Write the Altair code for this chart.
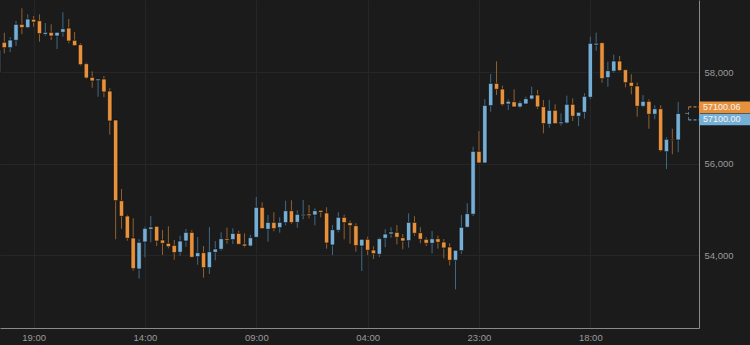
import altair as alt
import pandas as pd

# Hourly candles, first one at 2021-04-10 13:00 (partly hidden at the left edge)
start_time = "2021-04-10 13:00"
opens = [58004, 58652, 58534, 58696, 59045, 58971, 59154, 59123, 58827, 58870,
         58789, 58870, 58964, 58696, 58600, 58185, 57888, 57814, 57851, 57589,
         56957, 55196, 54862, 54382, 53705, 54295, 54572, 54637, 54338, 54266,
         54222, 54070, 54316, 54506, 53974, 54061, 53734, 54070, 54135, 54367,
         54345, 54484, 54251, 54207, 54397, 55052, 54572, 54724, 54607, 54716,
         54978, 54724, 54868, 54906, 54884, 54986, 54928, 54229, 54550, 54834,
         54716, 54650, 54207, 54354, 54120, 54027, 54375, 54469, 54506, 54388,
         54323, 54724, 54497, 54354, 54266, 54367, 54295, 54186, 53895, 54105,
         54616, 54899, 56274, 56018, 57269, 57757, 57633, 57306, 57356, 57241,
         57306, 57415, 57502, 57247, 56863, 57169, 56876, 56891, 57300, 57038,
         57125, 57452, 58593, 58644, 57880, 58020, 58244, 58055, 57780, 57699,
         57256, 57365, 57081, 57203, 56265, 56536, 56521]
highs = [58528, 58861, 58761, 59117, 59394, 59263, 59226, 59263, 59073, 59045,
         58870, 59307, 59160, 58877, 58630, 58207, 58019, 57851, 57917, 57648,
         56957, 55451, 54890, 54812, 54360, 54628, 54862, 54637, 54556, 54637,
         54338, 54432, 54578, 54556, 54404, 54207, 54622, 54316, 54506, 54607,
         54593, 54541, 54484, 54447, 55276, 55161, 54884, 54943, 54834, 55196,
         55205, 54986, 55211, 55102, 55030, 54986, 55052, 54666, 54943, 54890,
         54760, 54703, 54354, 54411, 54201, 54389, 54572, 54616, 54666, 54469,
         54921, 54856, 54616, 54397, 54535, 54432, 54360, 54266, 54114, 54884,
         55139, 56374, 56717, 57408, 57960, 58237, 57705, 57408, 57626, 57372,
         57465, 57684, 57612, 57393, 57393, 57300, 57103, 57487, 57430, 57125,
         57540, 58775, 58862, 58644, 58229, 58382, 58353, 58055, 57954, 57771,
         57502, 57409, 57278, 57278, 56579, 56767, 57350]
lows = [57961, 58412, 58440, 58571, 58827, 58957, 58992, 58665, 58796, 58702,
        58506, 58774, 58630, 58578, 58141, 57851, 57661, 57465, 57452, 56636,
        54353, 54585, 54323, 53668, 53494, 53961, 54288, 54207, 54011, 54157,
        53908, 53996, 54192, 53961, 53799, 53516, 53596, 53895, 54105, 54258,
        54251, 54244, 54179, 54192, 54397, 54585, 54301, 54528, 54497, 54659,
        54687, 54607, 54790, 54812, 54659, 54834, 54149, 54011, 54506, 54353,
        54258, 54083, 53662, 54011, 53924, 53968, 54179, 54388, 54244, 54135,
        54171, 54432, 54266, 54207, 54048, 54149, 53939, 53786, 53263, 54033,
        54616, 54862, 56018, 56018, 57138, 57502, 57262, 57175, 57241, 57212,
        57300, 57393, 57197, 56667, 56789, 56876, 56833, 56870, 56935, 56826,
        56985, 57409, 58469, 57771, 57684, 57989, 58020, 57670, 57518, 57029,
        57234, 56767, 56972, 56265, 55888, 56209, 56252]
closes = [58484, 58534, 58702, 59045, 58971, 59160, 59095, 58840, 58870, 58789,
          58870, 58949, 58680, 58578, 58163, 57873, 57808, 57851, 57568, 56935,
          55196, 54855, 54375, 53712, 54288, 54593, 54622, 54316, 54266, 54192,
          54061, 54316, 54506, 53961, 54061, 53734, 54083, 54142, 54367, 54332,
          54484, 54244, 54207, 54388, 55052, 54585, 54724, 54585, 54724, 54978,
          54716, 54899, 54899, 54868, 54978, 54943, 54273, 54563, 54834, 54716,
          54650, 54214, 54354, 54114, 54040, 54367, 54469, 54513, 54397, 54316,
          54724, 54484, 54354, 54266, 54367, 54288, 54164, 53895, 54114, 54616,
          54913, 56274, 56018, 57277, 57757, 57626, 57290, 57365, 57241, 57334,
          57422, 57502, 57241, 56876, 57169, 56876, 56913, 57300, 57038, 57125,
          57474, 58631, 58631, 57858, 58033, 58244, 58033, 57771, 57692, 57256,
          57365, 57081, 57203, 56287, 56536, 56514, 57100]

price_values = [57100.06, 57100.00]
price_labels = ["57100.06", "57100.00"]
price_kind = ["ask", "bid"]

tick_times = [(2021, 4, 10, 19), (2021, 4, 11, 14), (2021, 4, 12, 9),
              (2021, 4, 13, 4), (2021, 4, 13, 23), (2021, 4, 14, 18)]
y_ticks = [54000, 56000, 58000]

ORANGE = "#e8913d"
BLUE = "#76afd6"
ORANGE_WICK = "#91602f"
BLUE_WICK = "#416a86"
BG = "#1b1b1b"

df = pd.DataFrame({
    "time": pd.date_range(start_time, periods=len(opens), freq="h"),
    "open": opens, "high": highs, "low": lows, "close": closes,
})
df["dir"] = ["up" if c >= o else "down" for o, c in zip(opens, closes)]

tags = pd.DataFrame({"price": price_values, "label": price_labels, "kind": price_kind})

xscale = alt.Scale(domain=[alt.DateTime(year=2021, month=4, date=10, hours=13, minutes=16),
                           alt.DateTime(year=2021, month=4, date=15, hours=12, minutes=33)],
                   padding=0)
yscale = alt.Scale(domain=[52418, 59575], nice=False, zero=False)
xaxis = alt.Axis(values=[alt.DateTime(year=a, month=b, date=c, hours=d) for a, b, c, d in tick_times],
                 format="%H:%M", title=None, labelPadding=4)
yaxis = alt.Axis(orient="right", values=y_ticks, format=",d", title=None, labelPadding=5)

base = alt.Chart(df)

wicks = base.mark_rule(strokeWidth=1, clip=True).encode(
    x=alt.X("time:T", scale=xscale, axis=xaxis),
    y=alt.Y("low:Q", scale=yscale, axis=yaxis),
    y2="high:Q",
    color=alt.Color("dir:N", scale=alt.Scale(domain=["up", "down"], range=[BLUE_WICK, ORANGE_WICK]), legend=None),
)

bodies = base.mark_bar(size=4.4, stroke="#101010", strokeWidth=0.7, clip=True).encode(
    x=alt.X("time:T", scale=xscale, axis=xaxis),
    y=alt.Y("open:Q", scale=yscale, axis=yaxis),
    y2="close:Q",
    fill=alt.Fill("dir:N", scale=alt.Scale(domain=["up", "down"], range=[BLUE, ORANGE]), legend=None),
)

tb = alt.Chart(tags)
ask = tb.transform_filter(alt.datum.kind == "ask")
bid = tb.transform_filter(alt.datum.kind == "bid")

def ypos():
    return alt.Y("price:Q", scale=yscale, axis=yaxis)

ask_box = ask.mark_rule(color=ORANGE, strokeWidth=11.6, yOffset=-6, x2Offset=51).encode(
    x=alt.value("width"), x2=alt.value("width"), y=ypos())
bid_box = bid.mark_rule(color=BLUE, strokeWidth=11.6, yOffset=6, x2Offset=51).encode(
    x=alt.value("width"), x2=alt.value("width"), y=ypos())
ask_txt = ask.mark_text(align="left", baseline="middle", dx=4, dy=-6, fontSize=9,
                        font="Liberation Sans", color="#f4f4f4").encode(
    x=alt.value("width"), y=ypos(), text="label:N")
bid_txt = bid.mark_text(align="left", baseline="middle", dx=4, dy=6, fontSize=9,
                        font="Liberation Sans", color="#f4f4f4").encode(
    x=alt.value("width"), y=ypos(), text="label:N")

ghost_top = ask.mark_rule(color=ORANGE, strokeWidth=1, strokeDash=[3, 2], yOffset=-6.5, xOffset=-10.5).encode(
    x=alt.value("width"), x2=alt.value("width"), y=ypos())
ghost_bot = bid.mark_rule(color=BLUE, strokeWidth=1, strokeDash=[3, 2], yOffset=6.5, xOffset=-10.5).encode(
    x=alt.value("width"), x2=alt.value("width"), y=ypos())
ghost_left = bid.mark_rule(color="#5b6f7d", strokeWidth=1, strokeDash=[3, 2], xOffset=-10.5,
                           yOffset=-6.5, y2Offset=6.5).encode(
    x=alt.value("width"), y=ypos(), y2=alt.Y2("price:Q"))
ghost_stub = bid.mark_rule(color="#6b6b6b", strokeWidth=1, xOffset=-14, x2Offset=-11).encode(
    x=alt.value("width"), x2=alt.value("width"), y=ypos())

chart = alt.layer(
    wicks, bodies, ghost_stub, ghost_left, ghost_top, ghost_bot, ask_box, bid_box, ask_txt, bid_txt
).properties(
    width=699, height=328,
    autosize=alt.AutoSizeParams(type="none"),
    padding={"left": 0, "top": 0, "right": 51, "bottom": 17},
    background=BG,
).configure_view(stroke=None, fill=BG).configure_axis(
    gridColor="#262626", gridWidth=1, domainColor="#8a8a8a", domainWidth=1,
    ticks=False, labelColor="#9a9a9a", labelFont="Liberation Sans", labelFontSize=9.5,
)

chart.save("out.html", embed_options={"renderer": "svg", "actions": False})
